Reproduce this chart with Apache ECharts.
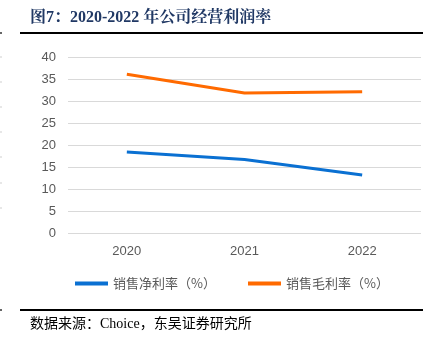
<!DOCTYPE html>
<html><head><meta charset="utf-8">
<script src="https://cdn.jsdelivr.net/npm/echarts@6/dist/echarts.min.js"></script>
<style>html,body{margin:0;padding:0;background:#fff}#c{width:434px;height:350px}</style>
</head><body><div id="c"></div>
<script>
const categories = ['2020', '2021', '2022'];
const netMargin = [18.4, 16.7, 13.2];
const grossMargin = [36.1, 31.8, 32.1];
const yTicks = [0, 5, 10, 15, 20, 25, 30, 35, 40];
const seriesNames = ['销售净利率（%）', '销售毛利率（%）'];

const edgeMarks = [57, 82, 107, 132, 157, 183, 208];
const graphics = [
  { type: 'line', shape: { x1: 20, y1: 33, x2: 423, y2: 33 }, style: { stroke: '#000', lineWidth: 2 } },
  { type: 'line', shape: { x1: 20, y1: 310, x2: 423, y2: 310 }, style: { stroke: '#000', lineWidth: 2 } },
  { type: 'line', shape: { x1: 0, y1: 33, x2: 2, y2: 33 }, style: { stroke: '#333', lineWidth: 1.5 } },
  { type: 'line', shape: { x1: 0, y1: 310, x2: 2, y2: 310 }, style: { stroke: '#333', lineWidth: 1.5 } },
  { type: 'text', left: 30, top: 317, style: { text: '数据来源：Choice，东吴证券研究所', font: '14px "Liberation Serif", "Noto Sans CJK SC", serif', fill: '#000' } }
];
edgeMarks.forEach(y => graphics.push({ type: 'line', shape: { x1: 0, y1: y, x2: 2, y2: y }, style: { stroke: '#cfcfcf', lineWidth: 1 } }));

const legendText = { fontSize: 13, color: '#595959', fontFamily: 'Noto Sans CJK SC, sans-serif' };
const chart = echarts.init(document.getElementById('c'));
chart.setOption({
  animation: false,
  backgroundColor: '#fff',
  title: {
    text: '图7：2020-2022 年公司经营利润率',
    left: 25, top: 5,
    textStyle: { fontFamily: 'Liberation Serif, Noto Serif CJK SC, Noto Sans CJK SC, serif', fontSize: 16, fontWeight: 'bold', color: '#203864' }
  },
  graphic: graphics,
  legend: [
    { data: [seriesNames[0]], left: 70, top: 272, itemWidth: 33, itemHeight: 4, icon: 'rect', textStyle: legendText },
    { data: [seriesNames[1]], left: 243, top: 272, itemWidth: 33, itemHeight: 4, icon: 'rect', textStyle: legendText }
  ],
  grid: { left: 68, right: 13, top: 57, bottom: 117, containLabel: false },
  xAxis: {
    type: 'category', data: categories, boundaryGap: true,
    axisLine: { show: false }, axisTick: { show: false },
    axisLabel: { fontSize: 13, color: '#595959', margin: 12, fontFamily: 'Liberation Sans, Arial, sans-serif' }
  },
  yAxis: {
    type: 'value', min: yTicks[0], max: yTicks[yTicks.length - 1], interval: 5,
    axisLine: { show: false }, axisTick: { show: false },
    axisLabel: { fontSize: 13, color: '#595959', margin: 12, fontFamily: 'Liberation Sans, Arial, sans-serif' },
    splitLine: { lineStyle: { color: '#d9d9d9', width: 1 } }
  },
  series: [
    { name: seriesNames[0], type: 'line', data: netMargin, symbol: 'none', lineStyle: { color: '#0a70d2', width: 3 }, itemStyle: { color: '#0a70d2' } },
    { name: seriesNames[1], type: 'line', data: grossMargin, symbol: 'none', lineStyle: { color: '#ff6a00', width: 3 }, itemStyle: { color: '#ff6a00' } }
  ]
});
</script></body></html>
